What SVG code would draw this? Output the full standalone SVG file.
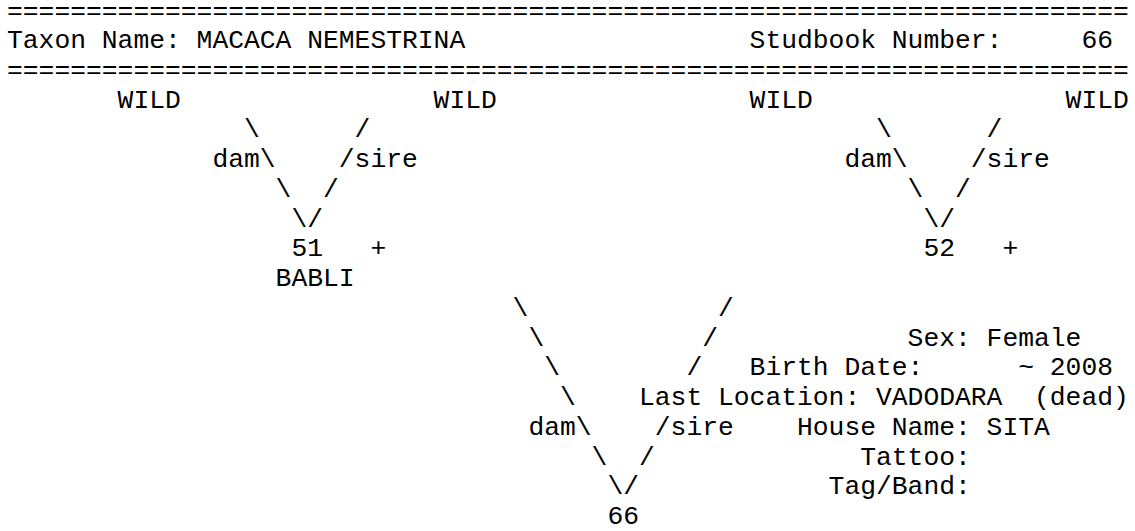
<svg xmlns="http://www.w3.org/2000/svg" width="1135" height="531" viewBox="0 0 1135 531">
<style>
text { font-family: "Liberation Mono", "Courier New", monospace; font-size: 26.333px; fill: #000; white-space: pre; }
</style>
<rect width="1135" height="531" fill="#fff"/>
<g id="header">
<text x="7" y="19">=======================================================================</text>
<text x="7" y="48.05">Taxon Name: MACACA NEMESTRINA</text>
<text x="749.6" y="48.05">Studbook Number:</text>
<text x="1081.4" y="48.05">66</text>
<text x="7" y="77.8">=======================================================================</text>
</g>
<g id="node-wild-1"><text x="117.6" y="107.55">WILD</text></g>
<g id="node-wild-2"><text x="433.6" y="107.55">WILD</text></g>
<g id="node-wild-3"><text x="749.6" y="107.55">WILD</text></g>
<g id="node-wild-4"><text x="1065.6" y="107.55">WILD</text></g>
<g id="node-51">
<text x="291.4" y="256.3">51</text>
<text x="370.4" y="256.3">+</text>
<text x="275.6" y="286.05">BABLI</text>
</g>
<g id="node-52">
<text x="923.4" y="256.3">52</text>
<text x="1002.4" y="256.3">+</text>
</g>
<g id="node-66">
<text x="607.4" y="524.05">66</text>
<text x="907.6" y="345.55">Sex: Female</text>
<text x="749.6" y="375.3">Birth Date:</text>
<text x="1018.2" y="375.3">~ 2008</text>
<text x="639" y="405.05">Last Location: VADODARA</text>
<text x="1034" y="405.05">(dead)</text>
<text x="797" y="434.8">House Name: SITA</text>
<text x="860.2" y="464.55">Tattoo:</text>
<text x="828.6" y="494.3">Tag/Band:</text>
</g>
<g id="connectors">
<text x="244" y="137.3">\</text>
<text x="354.6" y="137.3">/</text>
<text x="212.4" y="167.05">dam\</text>
<text x="338.8" y="167.05">/sire</text>
<text x="275.6" y="196.8">\</text>
<text x="323" y="196.8">/</text>
<text x="291.4" y="226.55">\/</text>
<text x="876" y="137.3">\</text>
<text x="986.6" y="137.3">/</text>
<text x="844.4" y="167.05">dam\</text>
<text x="970.8" y="167.05">/sire</text>
<text x="907.6" y="196.8">\</text>
<text x="955" y="196.8">/</text>
<text x="923.4" y="226.55">\/</text>
<text x="512.6" y="315.8">\</text>
<text x="718" y="315.8">/</text>
<text x="528.4" y="345.55">\</text>
<text x="702.2" y="345.55">/</text>
<text x="544.2" y="375.3">\</text>
<text x="686.4" y="375.3">/</text>
<text x="560" y="405.05">\</text>
<text x="528.4" y="434.8">dam\</text>
<text x="654.8" y="434.8">/sire</text>
<text x="591.6" y="464.55">\</text>
<text x="639" y="464.55">/</text>
<text x="607.4" y="494.3">\/</text>
</g>
</svg>
